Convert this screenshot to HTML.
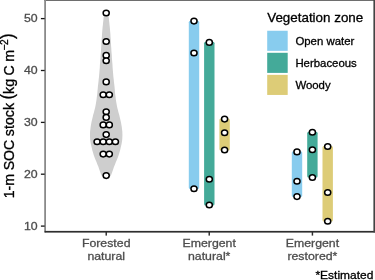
<!DOCTYPE html>
<html><head><meta charset="utf-8"><title>SOC stock</title>
<style>
html,body{margin:0;padding:0;background:#fff;}
svg{display:block;will-change:transform;}

text{font-family:"Liberation Sans",Arial,Helvetica,sans-serif;}
.tk{font-size:11.4px;fill:#4d4d4d;stroke:#4d4d4d;stroke-width:0.3px;}
.yt{font-size:14.2px;fill:#000;stroke:#000;stroke-width:0.3px;}
.cap{font-size:11.2px;fill:#000;stroke:#000;stroke-width:0.3px;}
.lt{font-size:13.4px;fill:#000;stroke:#000;stroke-width:0.3px;}
.ll{font-size:11.4px;fill:#000;stroke:#000;stroke-width:0.3px;}
</style></head>
<body>
<svg width="375" height="280" viewBox="0 0 375 280">
<rect width="375" height="280" fill="#fff"/>
<path d="M104.1 13.0 L103.9 15.4 L103.6 17.7 L103.4 20.1 L103.1 22.5 L102.9 24.8 L102.6 27.2 L102.4 29.6 L102.2 31.9 L102.0 34.3 L101.9 36.7 L101.7 39.0 L101.6 41.4 L101.4 43.8 L101.3 46.1 L101.1 48.5 L101.0 50.9 L100.8 53.2 L100.6 55.6 L100.5 58.0 L100.3 60.3 L100.1 62.7 L99.9 65.1 L99.8 67.4 L99.6 69.8 L99.4 72.2 L99.2 74.5 L99.0 76.9 L98.7 79.3 L98.5 81.6 L98.2 84.0 L97.9 86.4 L97.7 88.7 L97.5 91.1 L97.3 93.5 L97.0 95.8 L96.7 98.2 L96.4 100.6 L96.0 102.9 L95.6 105.3 L95.1 107.7 L94.5 110.0 L93.9 112.4 L93.2 114.8 L92.7 117.1 L92.1 119.5 L91.5 121.9 L91.1 124.2 L90.7 126.6 L90.4 129.0 L90.1 131.3 L90.0 133.7 L90.0 136.1 L90.1 138.4 L90.3 140.8 L90.7 143.2 L91.2 145.5 L91.8 147.9 L92.3 150.3 L93.0 152.6 L93.7 155.0 L94.6 157.4 L95.5 159.7 L96.5 162.1 L97.4 164.5 L98.4 166.8 L99.2 169.2 L100.0 171.6 L100.9 173.9 L101.9 176.3 L110.5 176.3 L111.5 173.9 L112.4 171.6 L113.2 169.2 L114.0 166.8 L115.0 164.5 L115.9 162.1 L116.9 159.7 L117.8 157.4 L118.7 155.0 L119.4 152.6 L120.1 150.3 L120.6 147.9 L121.2 145.5 L121.7 143.2 L122.1 140.8 L122.3 138.4 L122.4 136.1 L122.4 133.7 L122.3 131.3 L122.0 129.0 L121.7 126.6 L121.3 124.2 L120.9 121.9 L120.3 119.5 L119.7 117.1 L119.2 114.8 L118.5 112.4 L117.9 110.0 L117.3 107.7 L116.8 105.3 L116.4 102.9 L116.0 100.6 L115.7 98.2 L115.4 95.8 L115.1 93.5 L114.9 91.1 L114.7 88.7 L114.5 86.4 L114.2 84.0 L113.9 81.6 L113.7 79.3 L113.4 76.9 L113.2 74.5 L113.0 72.2 L112.8 69.8 L112.6 67.4 L112.5 65.1 L112.3 62.7 L112.1 60.3 L111.9 58.0 L111.8 55.6 L111.6 53.2 L111.4 50.9 L111.3 48.5 L111.1 46.1 L111.0 43.8 L110.8 41.4 L110.7 39.0 L110.5 36.7 L110.4 34.3 L110.2 31.9 L110.0 29.6 L109.8 27.2 L109.5 24.8 L109.3 22.5 L109.0 20.1 L108.8 17.7 L108.5 15.4 L108.3 13.0Z" fill="#CECECE"/>
<rect x="188.80" y="20.80" width="10.4" height="168.20" rx="1.5" fill="#88CCEE"/>
<rect x="204.10" y="41.80" width="10.4" height="163.60" rx="1.5" fill="#44AA99"/>
<rect x="219.40" y="118.50" width="10.4" height="31.90" rx="1.5" fill="#DDCC77"/>
<rect x="291.80" y="151.30" width="10.4" height="45.60" rx="1.5" fill="#88CCEE"/>
<rect x="307.20" y="131.70" width="10.4" height="45.90" rx="1.5" fill="#44AA99"/>
<rect x="322.50" y="145.90" width="10.4" height="75.50" rx="1.5" fill="#DDCC77"/>
<g fill="#fff" stroke="#000" stroke-width="1.5"><ellipse cx="106.2" cy="13.0" rx="3.05" ry="2.8"/><ellipse cx="106.2" cy="41.5" rx="3.05" ry="2.8"/><ellipse cx="106.2" cy="55.4" rx="3.05" ry="2.8"/><ellipse cx="106.2" cy="60.7" rx="3.05" ry="2.8"/><ellipse cx="106.2" cy="81.9" rx="3.05" ry="2.8"/><ellipse cx="103.2" cy="94.7" rx="3.05" ry="2.8"/><ellipse cx="109.3" cy="94.7" rx="3.05" ry="2.8"/><ellipse cx="106.2" cy="111.7" rx="3.05" ry="2.8"/><ellipse cx="106.2" cy="117.4" rx="3.05" ry="2.8"/><ellipse cx="103.2" cy="124.9" rx="3.05" ry="2.8"/><ellipse cx="109.3" cy="124.9" rx="3.05" ry="2.8"/><ellipse cx="106.2" cy="134.6" rx="3.05" ry="2.8"/><ellipse cx="97.1" cy="141.8" rx="3.05" ry="2.8"/><ellipse cx="103.2" cy="141.8" rx="3.05" ry="2.8"/><ellipse cx="109.3" cy="141.8" rx="3.05" ry="2.8"/><ellipse cx="115.4" cy="141.8" rx="3.05" ry="2.8"/><ellipse cx="103.2" cy="154.1" rx="3.05" ry="2.8"/><ellipse cx="109.3" cy="154.1" rx="3.05" ry="2.8"/><ellipse cx="106.2" cy="175.6" rx="3.05" ry="2.8"/><ellipse cx="194.0" cy="21.1" rx="3.05" ry="2.8"/><ellipse cx="194.0" cy="53.0" rx="3.05" ry="2.8"/><ellipse cx="194.0" cy="188.8" rx="3.05" ry="2.8"/><ellipse cx="209.3" cy="42.4" rx="3.05" ry="2.8"/><ellipse cx="209.3" cy="179.2" rx="3.05" ry="2.8"/><ellipse cx="209.3" cy="205.0" rx="3.05" ry="2.8"/><ellipse cx="224.6" cy="119.1" rx="3.05" ry="2.8"/><ellipse cx="224.6" cy="132.7" rx="3.05" ry="2.8"/><ellipse cx="224.6" cy="150.0" rx="3.05" ry="2.8"/><ellipse cx="297.0" cy="151.9" rx="3.05" ry="2.8"/><ellipse cx="297.0" cy="181.3" rx="3.05" ry="2.8"/><ellipse cx="297.0" cy="196.6" rx="3.05" ry="2.8"/><ellipse cx="312.4" cy="132.3" rx="3.05" ry="2.8"/><ellipse cx="312.4" cy="149.7" rx="3.05" ry="2.8"/><ellipse cx="312.4" cy="177.5" rx="3.05" ry="2.8"/><ellipse cx="327.7" cy="146.5" rx="3.05" ry="2.8"/><ellipse cx="327.7" cy="192.55" rx="3.05" ry="2.8"/><ellipse cx="327.7" cy="221.2" rx="3.05" ry="2.8"/></g>
<rect x="44.2" y="0" width="330.8" height="0.8" fill="#4a4a4a"/>
<rect x="44.2" y="0" width="1.8" height="232.4" fill="#8a8a8a"/>
<rect x="44.6" y="230.9" width="330.4" height="1.7" fill="#2e2e2e"/>
<rect x="373.4" y="0" width="1.6" height="232.4" fill="#444"/>
<rect x="40.9" y="17.95" width="3.8" height="1.3" fill="#161616"/>
<text transform="translate(37.6,22.4) scale(1.08,1)" text-anchor="end" class="tk">50</text>
<rect x="40.9" y="69.85" width="3.8" height="1.3" fill="#161616"/>
<text transform="translate(37.6,74.3) scale(1.08,1)" text-anchor="end" class="tk">40</text>
<rect x="40.9" y="121.75" width="3.8" height="1.3" fill="#161616"/>
<text transform="translate(37.6,126.2) scale(1.08,1)" text-anchor="end" class="tk">30</text>
<rect x="40.9" y="173.55" width="3.8" height="1.3" fill="#161616"/>
<text transform="translate(37.6,178.0) scale(1.08,1)" text-anchor="end" class="tk">20</text>
<rect x="40.9" y="225.45" width="3.8" height="1.3" fill="#161616"/>
<text transform="translate(37.6,229.9) scale(1.08,1)" text-anchor="end" class="tk">10</text>
<rect x="105.50" y="232" width="1.45" height="3.6" fill="#2e2e2e"/>
<text transform="translate(106.2,247.2) scale(1.08,1)" text-anchor="middle" class="tk">Forested</text>
<text transform="translate(106.2,260.4) scale(1.08,1)" text-anchor="middle" class="tk">natural</text>
<rect x="208.50" y="232" width="1.45" height="3.6" fill="#2e2e2e"/>
<text transform="translate(209.2,247.2) scale(1.08,1)" text-anchor="middle" class="tk">Emergent</text>
<text transform="translate(209.2,260.4) scale(1.08,1)" text-anchor="middle" class="tk">natural*</text>
<rect x="311.70" y="232" width="1.45" height="3.6" fill="#2e2e2e"/>
<text transform="translate(312.4,247.2) scale(1.08,1)" text-anchor="middle" class="tk">Emergent</text>
<text transform="translate(312.4,260.4) scale(1.08,1)" text-anchor="middle" class="tk">restored*</text>
<text transform="translate(13.9,198.3) rotate(-90) scale(1,1.05)" text-anchor="start" class="yt" word-spacing="-0.45">1-m SOC stock <tspan font-size="16.8" dy="-0.5">(</tspan><tspan dy="0.5">kg C m</tspan><tspan dy="-6.0" dx="-0.5" font-size="10.2">−</tspan><tspan dx="-0.6" font-size="10.2">2</tspan><tspan dy="5.5" dx="0.4" font-size="16.8">)</tspan></text>
<text transform="translate(373.3,279.2) scale(1.07,1)" text-anchor="end" class="cap">*Estimated</text>
<text x="267.2" y="22.2" class="lt">Vegetation zone</text>
<rect x="267.2" y="30.75" width="20.5" height="20.1" fill="#88CCEE"/>
<text x="295.4" y="45.20" class="ll">Open water</text>
<rect x="267.2" y="52.80" width="20.5" height="20.1" fill="#44AA99"/>
<text x="295.4" y="67.15" class="ll">Herbaceous</text>
<rect x="267.2" y="74.85" width="20.5" height="20.1" fill="#DDCC77"/>
<text x="295.4" y="89.10" class="ll">Woody</text>
</svg>
</body></html>
